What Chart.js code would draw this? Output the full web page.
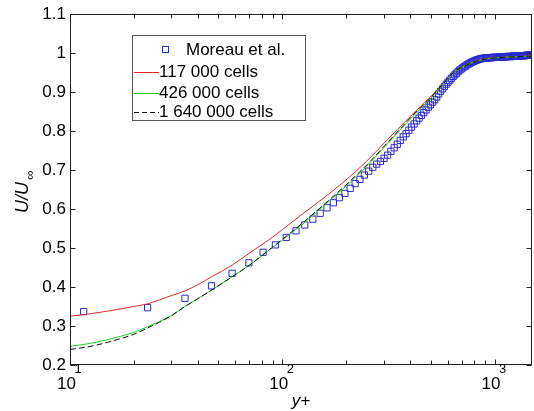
<!DOCTYPE html>
<html><head><meta charset="utf-8">
<script src="https://cdn.jsdelivr.net/npm/chart.js@4/dist/chart.umd.min.js"></script>
<style>html,body{margin:0;padding:0;background:#fff;}canvas{display:block;}</style>
</head><body>
<canvas id="c" width="534" height="411"></canvas>
<script>
// ---- data ----
const seriesLabels = ['Moreau et al.', '117 000 cells', '426 000 cells', '1 640 000 cells'];
const xMajorTicks = [10, 100, 1000];
const xTickBase = ['10', '10', '10'];
const xTickExp = ['1', '2', '3'];
const xMinorTicks = [20,30,40,50,60,70,80,90,200,300,400,500,600,700,800,900];
const yTicks = [0.2,0.3,0.4,0.5,0.6,0.7,0.8,0.9,1.0,1.1];
const yTickLabels = ['0.2','0.3','0.4','0.5','0.6','0.7','0.8','0.9','1','1.1'];

const moreauYplus = [11.6,23.2,34.8,46.4,58.0,69.6,81.2,92.8,104.4,116.0,127.6,139.2,150.8,162.4,174.0,185.6,197.2,208.8,220.4,232.0,243.6,255.2,266.8,278.4,290.0,301.6,313.2,324.8,336.4,348.0,359.6,371.2,382.8,394.4,406.0,417.6,429.2,440.8,452.4,464.0,475.6,487.2,498.8,510.4,522.0,533.6,545.2,556.8,568.4,580.0,591.6,603.2,614.8,626.4,638.0,649.6,661.2,672.8,684.4,696.0,707.6,719.2,730.8,742.4,754.0,765.6,777.2,788.8,800.4,812.0,823.6,835.2,846.8,858.4,870.0,881.6,893.2,904.8,916.4,928.0,939.6,951.2,962.8,974.4,986.0,997.6,1009.2,1020.8,1032.4,1044.0,1055.6,1067.2,1078.8,1090.4,1102.0,1113.6,1125.2,1136.8,1148.4,1160.0,1171.6,1183.2,1194.8,1206.4,1218.0,1229.6,1241.2,1252.8,1264.4,1276.0,1287.6,1299.2,1310.8,1322.4,1334.0,1345.6,1357.2,1368.8,1380.4,1392.0,1403.6,1415.2,1426.8,1438.4,1450.0,1461.6,1473.2,1484.8,1496.4];
const moreauU = [0.337,0.347,0.371,0.403,0.435,0.462,0.489,0.508,0.527,0.544,
  0.559,0.574,0.589,0.603,0.616,0.629,0.640,0.653,0.665,0.676,
  0.687,0.697,0.707,0.715,0.722,0.730,0.738,0.748,0.757,0.766,
  0.776,0.785,0.793,0.802,0.810,0.818,0.826,0.833,0.840,0.847,
  0.854,0.861,0.867,0.874,0.880,0.887,0.895,0.902,0.908,0.914,
  0.920,0.925,0.930,0.935,0.940,0.944,0.948,0.952,0.956,0.959,
  0.962,0.965,0.967,0.970,0.972,0.974,0.976,0.978,0.979,0.981,
  0.982,0.983,0.984,0.985,0.986,0.986,0.987,0.987,0.987,0.988,
  0.988,0.988,0.988,0.988,0.989,0.989,0.989,0.989,0.989,0.989,
  0.990,0.990,0.990,0.990,0.990,0.990,0.990,0.991,0.991,0.991,
  0.991,0.991,0.991,0.991,0.992,0.992,0.992,0.992,0.992,0.992,
  0.992,0.992,0.993,0.993,0.993,0.993,0.993,0.993,0.993,0.993,
  0.994,0.994,0.994,0.994,0.994,0.995,0.995,0.995,0.995];

const coarseYplus = [10,12,15,20,23.2,30,34.8,40,46.4,58,70,87,100,125,167,208,250,303,400,500,560,648,700,750,800,900,1000,1200,1500];
const coarseU     = [0.325,0.330,0.338,0.350,0.357,0.378,0.390,0.406,0.426,0.456,0.487,0.522,0.547,0.588,0.640,0.683,0.723,0.770,0.837,0.888,0.916,0.953,0.964,0.972,0.978,0.985,0.988,0.990,0.993];

const mediumYplus = [10,12,15,20,23.2,30,34.8,40,46.4,58,70,87,100,125,167,208,250,303,400,500,560,648,700,750,800,900,1000,1200,1500];
const mediumU     = [0.248,0.254,0.265,0.284,0.298,0.327,0.350,0.370,0.392,0.426,0.456,0.495,0.520,0.562,0.621,0.668,0.710,0.759,0.830,0.884,0.914,0.952,0.963,0.971,0.977,0.984,0.987,0.990,0.992];

const fineYplus = [10,12,15,20,23.2,30,34.8,40,46.4,58,70,87,100,125,167,208,250,303,400,500,560,648,700,750,800,900,1000,1200,1500];
const fineU     = [0.240,0.246,0.258,0.279,0.295,0.326,0.350,0.370,0.392,0.426,0.456,0.496,0.522,0.565,0.624,0.671,0.713,0.762,0.833,0.886,0.915,0.953,0.963,0.971,0.977,0.984,0.987,0.990,0.992];

// ---- styles ----
const FONT = '"Liberation Sans", Arial, Helvetica, sans-serif';
const colMarker = '#2a2ad0';
const colRed = '#e02a2a';
const colGreen = '#22d022';
const colBlack = '#111111';
const legendColors = [colMarker, colRed, colGreen, colBlack];

const toPts = (xs, ys) => xs.map((x, i) => ({x: x, y: ys[i]}));

const framePlugin = {
  id: 'frame',
  afterDatasetsDraw(chart) {
    const {ctx, chartArea: a, scales: {x, y}} = chart;
    ctx.save();
    ctx.strokeStyle = '#222';
    ctx.lineWidth = 1;
    const L = Math.round(a.left) + 0.5, R = Math.round(a.right) - 0.5;
    const T = Math.round(a.top) + 0.5, B = Math.round(a.bottom) - 0.5;
    ctx.strokeRect(L, T, R - L, B - T);
    ctx.beginPath();
    const tickX = (v, len) => {
      const px = Math.round(x.getPixelForValue(v)) + 0.5;
      ctx.moveTo(px, B); ctx.lineTo(px, B - len);
      ctx.moveTo(px, T); ctx.lineTo(px, T + len);
    };
    xMajorTicks.forEach(v => tickX(v, 5));
    xMinorTicks.forEach(v => tickX(v, 4));
    yTicks.forEach(v => {
      const py = Math.round(y.getPixelForValue(v)) + 0.5;
      ctx.moveTo(L, py); ctx.lineTo(L + 5, py);
      ctx.moveTo(R, py); ctx.lineTo(R - 5, py);
    });
    ctx.stroke();

    // x tick labels with raised exponents
    ctx.fillStyle = '#000';
    ctx.textBaseline = 'alphabetic';
    ctx.textAlign = 'left';
    xMajorTicks.forEach((v, i) => {
      const px = x.getPixelForValue(v);
      ctx.font = '17px ' + FONT;
      const wb = ctx.measureText(xTickBase[i]).width;
      const start = px - 13;
      ctx.fillText(xTickBase[i], start, 389);
      ctx.font = '13px ' + FONT;
      ctx.fillText(xTickExp[i], start + wb - 1.5, 373);
    });

    // axis titles
    ctx.textAlign = 'center';
    ctx.font = 'italic 17px ' + FONT;
    ctx.fillText('y+', (a.left + a.right) / 2, 406);

    ctx.save();
    ctx.translate(28, 213);
    ctx.rotate(-Math.PI / 2);
    ctx.textAlign = 'left';
    ctx.font = 'italic 18px ' + FONT;
    ctx.fillText('U/U', 0, 0);
    const w = ctx.measureText('U/U').width;
    ctx.font = 'italic 13px ' + FONT;
    ctx.fillText('\u221E', w + 2, 6);
    ctx.restore();

    // legend
    const bx = 132.5, by = 35.5, bw = 173, bh = 85;
    ctx.fillStyle = '#fff';
    ctx.fillRect(bx, by, bw, bh);
    ctx.strokeStyle = '#555';
    ctx.strokeRect(bx, by, bw, bh);
    const rows = [50, 72, 93, 112];
    ctx.font = '17px ' + FONT;
    ctx.textAlign = 'left';
    ctx.textBaseline = 'middle';
    ctx.fillStyle = '#000';
    chart.data.datasets.forEach((ds, i) => {
      const ry = rows[i];
      ctx.strokeStyle = legendColors[i];
      if (i === 0) {
        ctx.setLineDash([]);
        ctx.strokeRect(162.5, ry - 3.5, 6, 6);
        ctx.fillText(ds.label, 186, ry);
      } else {
        ctx.setLineDash(i === 3 ? [5, 3] : []);
        ctx.beginPath();
        ctx.moveTo(134, Math.round(ry) + 0.5);
        ctx.lineTo(159, Math.round(ry) + 0.5);
        ctx.stroke();
        ctx.setLineDash([]);
        ctx.fillText(ds.label, 159, ry);
      }
    });
    ctx.restore();
  }
};

new Chart(document.getElementById('c'), {
  type: 'scatter',
  data: {
    datasets: [
      { label: seriesLabels[0], data: toPts(moreauYplus, moreauU), showLine: false,
        pointStyle: 'rect', pointRadius: 4.4, pointBorderWidth: 1,
        pointBorderColor: colMarker, pointBackgroundColor: 'rgba(0,0,0,0)', order: 3 },
      { label: seriesLabels[1], data: toPts(coarseYplus, coarseU), showLine: true,
        borderColor: colRed, borderWidth: 1, pointRadius: 0, cubicInterpolationMode: 'monotone', order: 2 },
      { label: seriesLabels[2], data: toPts(mediumYplus, mediumU), showLine: true,
        borderColor: colGreen, borderWidth: 1, pointRadius: 0, cubicInterpolationMode: 'monotone', order: 1 },
      { label: seriesLabels[3], data: toPts(fineYplus, fineU), showLine: true,
        borderColor: colBlack, borderWidth: 1, borderDash: [6, 3], pointRadius: 0, cubicInterpolationMode: 'monotone', order: 0 }
    ]
  },
  options: {
    responsive: false, animation: false, devicePixelRatio: 1,
    layout: { autoPadding: false, padding: { top: 14, right: 2, left: 0, bottom: 0 } },
    plugins: { legend: { display: false }, tooltip: { enabled: false } },
    scales: {
      x: {
        type: 'logarithmic', min: 10, max: 1500,
        grid: { display: false, drawTicks: false }, border: { display: false },
        afterBuildTicks: s => { s.ticks = xMajorTicks.map(v => ({ value: v })); },
        afterFit: s => { s.height = 46; s.paddingLeft = 0; s.paddingRight = 0; },
        ticks: { autoSkip: false, maxRotation: 0, padding: 6, color: '#000',
          font: { family: FONT, size: 17 },
          callback: () => '' }
      },
      y: {
        min: 0.2, max: 1.1,
        grid: { display: false, drawTicks: false }, border: { display: false },
        afterBuildTicks: s => { s.ticks = yTicks.map(v => ({ value: v })); },
        afterFit: s => { s.width = 70; s.paddingTop = 0; s.paddingBottom = 0; },
        ticks: { padding: 4, color: '#000', font: { family: FONT, size: 17 },
          callback: (v, i) => yTickLabels[i] }
      }
    }
  },
  plugins: [framePlugin]
});
</script>
</body></html>
